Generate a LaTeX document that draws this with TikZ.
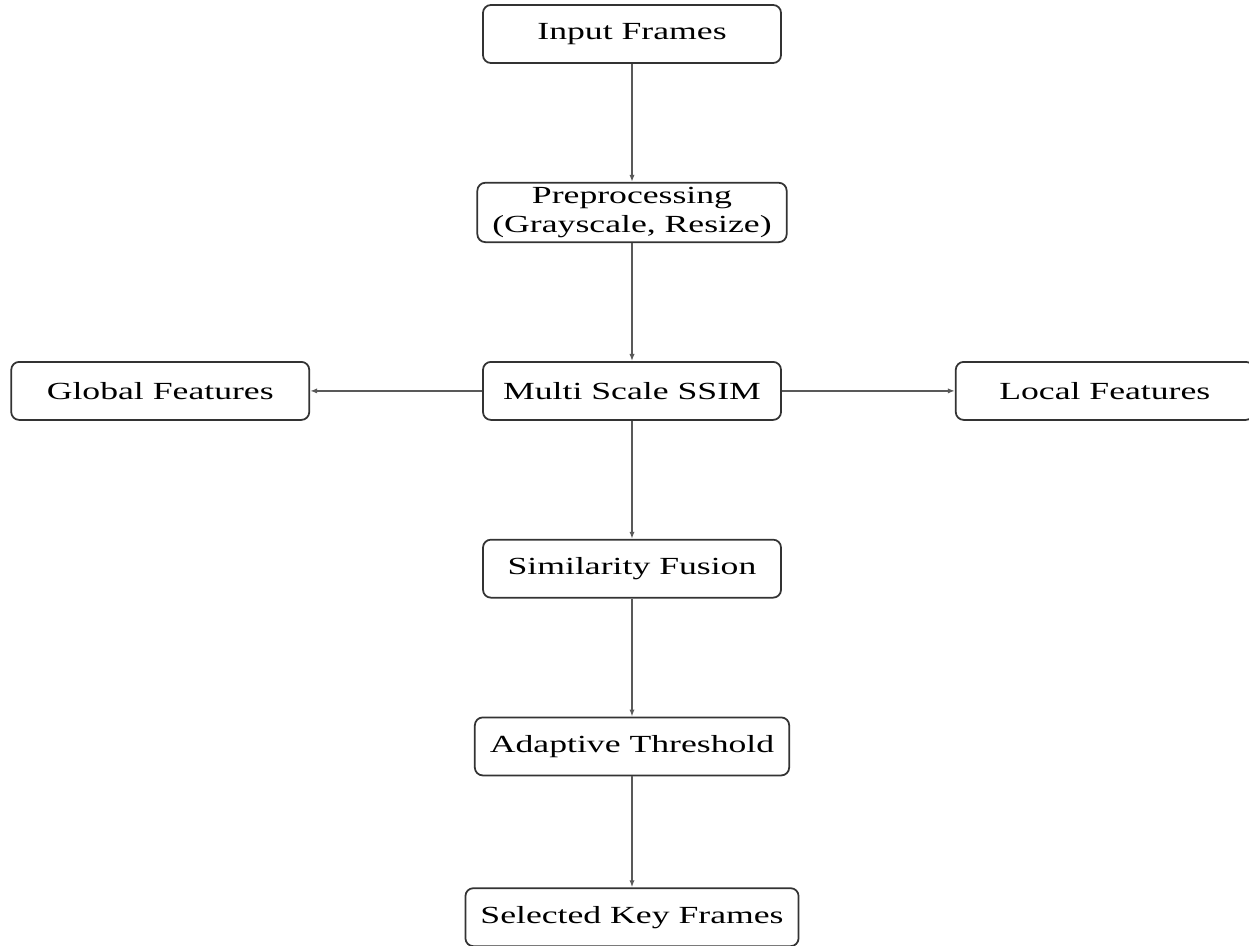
\documentclass[tikz,border=0pt]{standalone}
\usepackage{fontspec}
\setmainfont{Liberation Serif}[FakeStretch=1.45]
\usetikzlibrary{positioning,arrows.meta}
\tikzset{>={Latex[length=4pt,width=3pt]}}

\begin{document}
\begin{tikzpicture}[node distance=2.36cm,
    block/.style={draw=black!80, line width=1pt, rounded corners=4.5pt,
        minimum width=5.96cm, minimum height=1.16cm, align=center,
        inner xsep=0.3cm, inner ysep=2.5pt, font=\fontsize{14}{16.5}\selectfont},
    flow/.style={->, draw=black!65, line width=0.8pt}]
    \useasboundingbox (0,0) rectangle (24.98,-18.9);
    \node[block] (input) at (12.64,-0.68) {Input Frames};
    \node[block, below=of input] (pre) {Preprocessing\\(Grayscale, Resize)};
    \node[block, below=of pre] (ssim) {Multi Scale SSIM};
    \node[block, left=3.44cm of ssim] (global) {Global Features};
    \node[block, right=3.46cm of ssim] (local) {Local Features};
    \node[block, below=of ssim] (fusion) {Similarity Fusion};
    \node[block, below=of fusion] (thresh) {Adaptive Threshold};
    \node[block, below=2.22cm of thresh] (keys) {Selected Key Frames};
    % connectors
    \draw[flow] (input) -- (pre);
    \draw[flow] (pre) -- (ssim);
    \draw[flow] (ssim) -- (global);
    \draw[flow] (ssim) -- (local);
    \draw[flow] (ssim) -- (fusion);
    \draw[flow] (fusion) -- (thresh);
    \draw[flow] (thresh) -- (keys);
\end{tikzpicture}
\end{document}
